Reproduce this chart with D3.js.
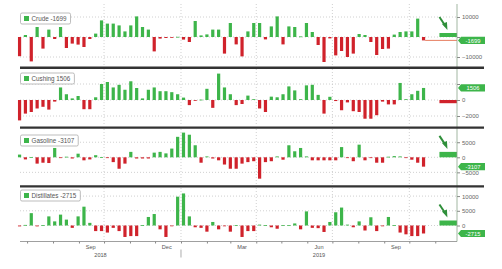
<!DOCTYPE html>
<html>
<head>
<meta charset="utf-8">
<script src="https://cdn.jsdelivr.net/npm/d3@7"></script>
<style>
body { margin: 0; background: #fff; }
text { font-family: "Liberation Sans", Arial, sans-serif; }
</style>
</head>
<body>
<svg width="502" height="269"></svg>
<script>
// Weekly inventory changes (thousand barrels), week ending dates from 22 Jun 2018.

var firstWeek = new Date(2018, 5, 22);

var crude = [-9600, 1000, -12200, 5000, -5800, 3700, -1000, 5000, -5500, -3300,
  -3800, -5000, -1000, 1700, 8300, 6700, 6700, 5800, 2800, 5800,
  10300, 5000, 3700, -7200, -800, -500, -100, 100, -1300, -2500,
  8000, 800, 1300, 3700, 3700, -8300, 7000, -3700, -9700, 2800,
  7000, 7000, -1200, 5300, 10300, -3700, 5300, 5000, 300, 7000,
  2500, -4000, -12500, -700, -9200, -7000, -10000, -8300, 1500, 1000,
  -2500, -9000, -6000, -5800, 1200, 2500, 2800, 2800, 9200, -1699];

var cushing = [-2550, -1700, -1500, -1060, -850, -1200, -200, 1570, 720, 200,
  500, -1150, -1150, 340, 2000, 2250, 1570, 1900, 1280, 2340,
  1500, 200, 1280, 1570, 1100, 1100, 980, 720, 300, -640,
  -50, 50, 1400, -980, 3300, 1570, 720, -640, -500, 550,
  100, -1060, -1500, 420, 340, 720, 1700, 1200, 100, 1830,
  1900, 640, -1700, 400, -130, -1280, -300, -1400, -1500, -2340,
  -2340, -1900, -200, -550, -550, 2130, 100, 720, 1150, 1506];

var gasoline = [900, -700, 100, -2100, -1800, -1900, 3100, -200, 200, -400,
  1200, -1000, -700, 700, 100, -100, -1600, -3800, -2100, 1800,
  -400, -400, -400, 1550, 1800, 1300, 2900, 6800, 8200, 7500,
  4000, -1800, 300, -400, -1000, -2400, -3800, -3800, -2100, -1600,
  -1300, -7100, -1600, -1300, 300, -800, 4000, 2000, 3100, 300,
  -1000, -1000, -1000, -1000, -1000, 3400, -100, -1300, 4200, -1000,
  -100, -1800, -1800, 200, 400, 300, -100, -800, -1800, -3107];

var distillates = [-300, 200, 4200, -300, 100, 3100, 1400, 3700, 2000, -800,
  3100, 6400, 900, -1900, -1900, -2400, -800, -1900, -3900, -3600,
  -3600, 100, 2900, 3900, -1300, -3900, -200, 9800, 10900, 3100,
  -600, -800, -2100, 1200, -1300, -100, -2100, 100, -3900, -1900,
  -1900, 300, 100, -600, -1100, 100, 100, 700, -1300, 4800,
  -800, -900, -2200, 1200, 4500, 6100, 300, -600, 1400, -1700,
  2800, -1900, -100, 2900, 100, -2400, -3000, -3600, -3600, -2715];

var names = ['Crude', 'Cushing', 'Gasoline', 'Distillates'];
var lastLabels = ['-1699', '1506', '-3107', '-2715'];
var expected = [2000, -400, 1800, 1700];
var expectDates = [new Date(2019, 10, 6), new Date(2019, 10, 27)];
var showArrow = [true, false, true, true];
var tickVals = [[-10000, 0, 10000], [-2000, 0, 2000], [-5000, 0, 5000], [0, 5000, 10000]];
var gridQuarters = [new Date(2018, 9, 1), new Date(2019, 0, 1), new Date(2019, 3, 1), new Date(2019, 6, 1), new Date(2019, 9, 1)];
var monthLabels = ['Sep', 'Dec', 'Mar', 'Jun', 'Sep'];
var monthLabelDates = [new Date(2018, 8, 15), new Date(2018, 11, 15), new Date(2019, 2, 15), new Date(2019, 5, 15), new Date(2019, 8, 15)];
var yearLabels = ['2018', '2019'];

var green = '#3db54a', red = '#d0222b';

var svg = d3.select('svg');
var left = 20, right = 457;

var x = d3.scaleTime()
  .domain([new Date(2018, 5, 1), new Date(2019, 10, 27)])
  .range([2, 457]);

var weeks = d3.range(crude.length).map(function(i) { return d3.timeDay.offset(firstWeek, 7 * i); });
var barW = 3.2;

// Panel frames: top / bottom pixel and value domain.
var panels = [
  {data: crude, top: 4, bottom: 67, dom: [-15000, 16500], legendY: 13},
  {data: cushing, top: 69, bottom: 126, dom: [-3250, 3875], legendY: 73},
  {data: gasoline, top: 129, bottom: 185, dom: [-9200, 9400], legendY: 135},
  {data: distillates, top: 188, bottom: 241.5, dom: [-5440, 12750], legendY: 190}
];

panels.forEach(function(p, k) {
  var y = d3.scaleLinear().domain(p.dom).range([p.bottom, p.top]);
  var g = svg.append('g');
  var last = p.data[p.data.length - 1];

  // Dotted grid.
  g.selectAll('.hg')
    .data(tickVals[k])
    .enter().append('line')
    .attr('x1', left).attr('x2', right)
    .attr('y1', function(d) { return y(d); })
    .attr('y2', function(d) { return y(d); })
    .attr('stroke', '#c4c4c4')
    .attr('stroke-width', 0.8)
    .attr('stroke-dasharray', '1,2');

  g.selectAll('.vg')
    .data(gridQuarters)
    .enter().append('line')
    .attr('x1', function(d) { return x(d); })
    .attr('x2', function(d) { return x(d); })
    .attr('y1', p.top).attr('y2', p.bottom)
    .attr('stroke', '#c4c4c4')
    .attr('stroke-width', 0.8)
    .attr('stroke-dasharray', '1,2');

  // Bars.
  g.selectAll('.bar')
    .data(p.data)
    .enter().append('rect')
    .attr('x', function(d, i) { return x(weeks[i]) - barW / 2; })
    .attr('y', function(d) { return y(Math.max(0, d)); })
    .attr('width', barW)
    .attr('height', function(d) { return Math.max(0.8, Math.abs(y(d) - y(0))); })
    .attr('fill', function(d) { return d >= 0 ? green : red; });

  // Expectation bar at the right edge.
  var ev = expected[k];
  g.append('rect')
    .attr('x', x(expectDates[0]))
    .attr('y', y(Math.max(0, ev)))
    .attr('width', x(expectDates[1]) - x(expectDates[0]))
    .attr('height', Math.abs(y(ev) - y(0)))
    .attr('fill', ev >= 0 ? green : red);

  if (k === 0) {
    g.append('line')
      .attr('x1', x(weeks[weeks.length - 1]) + barW / 2)
      .attr('x2', right)
      .attr('y1', y(last))
      .attr('y2', y(last))
      .attr('stroke', '#e0603a')
      .attr('stroke-width', 0.8);
  }

  if (showArrow[k]) {
    var ax = x(expectDates[0]) + 7, ay = y(Math.max(0, ev)) - 3;
    g.append('line')
      .attr('x1', ax - 7).attr('y1', ay - 13)
      .attr('x2', ax - 1).attr('y2', ay - 4)
      .attr('stroke', '#2f8f3a')
      .attr('stroke-width', 2);
    g.append('path')
      .attr('d', 'M' + (ax - 4.5) + ',' + (ay - 6) + 'L' + (ax + 1) + ',' + ay + 'L' + (ax + 0.5) + ',' + (ay - 8) + 'Z')
      .attr('fill', '#2f8f3a');
  }

  // Right axis; labels fully hidden behind the last value box are left out.
  var axis = svg.append('g')
    .attr('transform', 'translate(' + right + ',0)')
    .call(d3.axisRight(y).tickValues(tickVals[k]).tickSize(3).tickPadding(2).tickFormat(d3.format('d')));
  axis.select('.domain').remove();
  axis.selectAll('line').attr('stroke', '#888');
  axis.selectAll('text')
    .attr('font-size', 6).attr('fill', '#666')
    .attr('font-family', 'Liberation Sans, Arial, sans-serif')
    .filter(function(d) { return Math.abs(y(d) - y(last)) < 5; })
    .remove();

  // Last value box.
  var lb = svg.append('g').attr('transform', 'translate(' + (right + 1) + ',' + y(last) + ')');
  lb.append('path')
    .attr('d', 'M0,0L3,-3.6H27V3.6H3Z')
    .attr('fill', green);
  lb.append('text')
    .attr('x', 15).attr('y', 2.1)
    .attr('text-anchor', 'middle')
    .attr('font-size', 5.8)
    .attr('fill', '#fff')
    .text(lastLabels[k]);

  // Legend box.
  var lg = svg.append('g').attr('transform', 'translate(' + (left + 0.5) + ',' + p.legendY + ')');
  var box = lg.append('rect')
    .attr('height', 11).attr('rx', 1.5)
    .attr('fill', '#fff')
    .attr('stroke', '#a0a0a0')
    .attr('stroke-width', 0.7);
  lg.append('rect')
    .attr('x', 3.5).attr('y', 3).attr('width', 5).attr('height', 5)
    .attr('fill', green);
  var lt = lg.append('text')
    .attr('x', 11).attr('y', 7.8)
    .attr('font-size', 6.3)
    .attr('fill', '#555')
    .text(names[k] + '  ' + lastLabels[k]);
  box.attr('width', lt.node().getComputedTextLength() + 15);
});

// Right axis line.
svg.append('line')
  .attr('x1', right).attr('x2', right)
  .attr('y1', 4).attr('y2', 241.5)
  .attr('stroke', '#8aa58a')
  .attr('stroke-width', 0.8);

// Panel separators.
svg.selectAll('.sep')
  .data([67.8, 127.6, 186.4])
  .enter().append('line')
  .attr('x1', left).attr('x2', 484)
  .attr('y1', function(d) { return d; })
  .attr('y2', function(d) { return d; })
  .attr('stroke', '#333')
  .attr('stroke-width', 2.4);

// Bottom time axis.
var bottom = 241.5;
var xa = svg.append('g')
  .attr('transform', 'translate(0,' + bottom + ')')
  .call(d3.axisBottom(x)
    .tickValues(d3.timeMonth.range(new Date(2018, 6, 1), new Date(2019, 10, 2)))
    .tickFormat('')
    .tickSize(2));
xa.select('.domain').attr('d', 'M' + left + ',0H' + right).attr('stroke', '#888').attr('stroke-width', 0.8);
xa.selectAll('line').attr('stroke', '#888');

svg.selectAll('.ml')
  .data(monthLabels)
  .enter().append('text')
  .attr('x', function(d, i) { return x(monthLabelDates[i]); })
  .attr('y', 248.5)
  .attr('text-anchor', 'middle')
  .attr('font-size', 5.6)
  .attr('fill', '#555')
  .text(function(d) { return d; });

var yearEdge = x(new Date(2019, 0, 1));
svg.append('line')
  .attr('x1', yearEdge).attr('x2', yearEdge)
  .attr('y1', 249.5).attr('y2', 257.5)
  .attr('stroke', '#888')
  .attr('stroke-width', 0.7);

svg.selectAll('.yl')
  .data(yearLabels)
  .enter().append('text')
  .attr('x', function(d, i) { return i === 0 ? (left + yearEdge) / 2 : (yearEdge + right) / 2; })
  .attr('y', 256.5)
  .attr('text-anchor', 'middle')
  .attr('font-size', 5.6)
  .attr('fill', '#555')
  .text(function(d) { return d; });
</script>
</body>
</html>
